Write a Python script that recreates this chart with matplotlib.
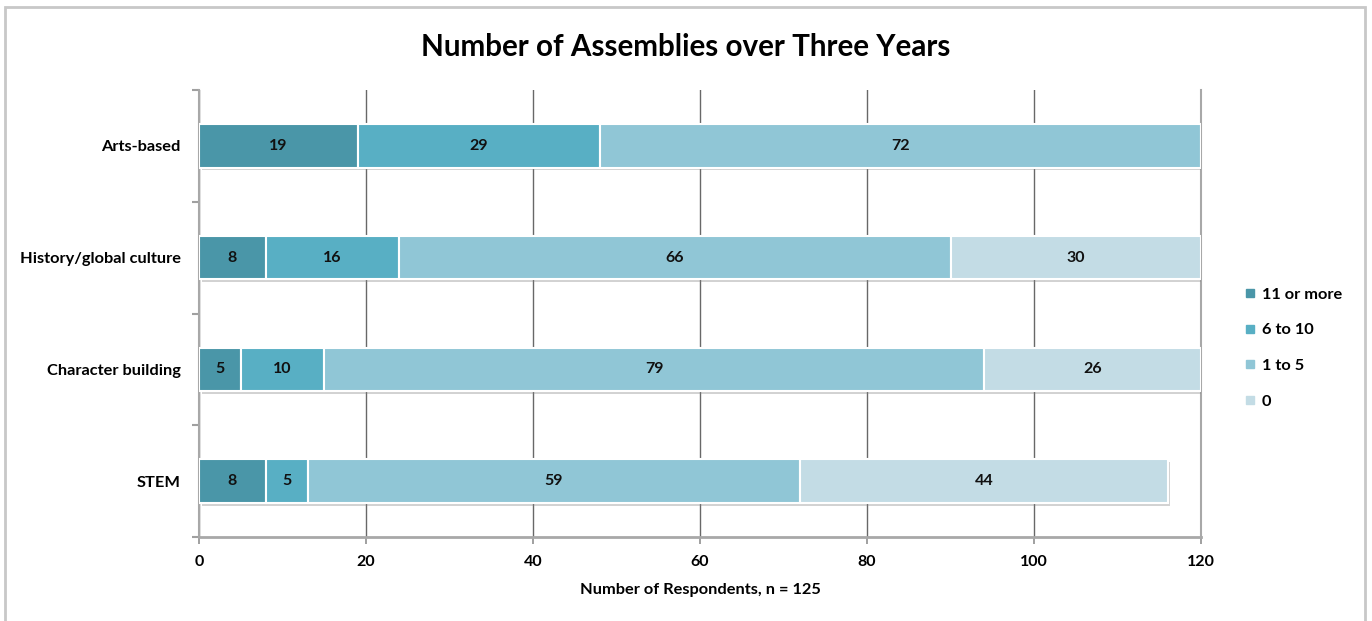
import matplotlib
matplotlib.use("Agg")
import matplotlib.pyplot as plt
import matplotlib.patheffects as pe
from matplotlib.patches import Rectangle
from matplotlib.lines import Line2D
import numpy as np

categories = ["Arts-based", "History/global culture", "Character building", "STEM"]
series_names = ["11 or more", "6 to 10", "1 to 5", "0"]
eleven_plus = [19, 8, 5, 8]
six_to_ten = [29, 16, 10, 5]
one_to_five = [72, 66, 79, 59]
zero = [0, 30, 26, 44]
x_ticks = [0, 20, 40, 60, 80, 100, 120]

colors = ["#4a96a8", "#58afc4", "#90c6d6", "#c3dce5"]

plt.rcParams["font.family"] = ["Lato", "DejaVu Sans"]
plt.rcParams["font.weight"] = "bold"

fig = plt.figure(figsize=(13.72, 6.21), dpi=100)
ax = fig.add_axes([199 / 1372, 1 - 537 / 621, (1201 - 199) / 1372, (537 - 90) / 621])

# outer frame around the whole chart
fig.patches.append(Rectangle((5 / 1372, -0.02), 1360 / 1372, 1 - 7 / 621 + 0.02,
                             transform=fig.transFigure, fill=False,
                             edgecolor="#c8c8c8", linewidth=2, zorder=0))

y = np.arange(len(categories))
left = np.zeros(len(categories))
shadow = [pe.SimplePatchShadow(offset=(2, -2), shadow_rgbFace="#808080", alpha=0.35),
          pe.Normal()]
for name, vals, col in zip(series_names, [eleven_plus, six_to_ten, one_to_five, zero], colors):
    vals = np.array(vals, dtype=float)
    bars = ax.barh(y, vals, left=left, height=0.39, color=col, edgecolor="white",
                   linewidth=1.5, label=name, zorder=3)
    for b, v in zip(bars, vals):
        if v > 0:
            b.set_path_effects(shadow)
            ax.text(b.get_x() + b.get_width() / 2, b.get_y() + b.get_height() / 2,
                    f"{int(v)}", ha="center", va="center", fontsize=11.5,
                    fontweight="bold", color="#111111", zorder=4)
    left += vals

ax.set_xlim(0, 120)
ax.set_ylim(3.5, -0.5)
ax.set_xticks(x_ticks)
ax.set_xticklabels([str(t) for t in x_ticks], fontsize=11.5, fontweight="bold")
ax.set_yticks(y)
ax.set_yticklabels(categories, fontsize=11.8, fontweight="bold")
ax.set_yticks(np.arange(-0.5, 4.0, 1.0), minor=True)
ax.tick_params(axis="y", which="major", length=0, pad=13)
ax.tick_params(axis="y", which="minor", length=5, color="#a0a0a0", width=1.5)
ax.tick_params(axis="x", length=5, color="#909090", width=1.2, pad=8)

ax.grid(axis="x", color="#686868", linewidth=1.0, zorder=0)
ax.spines["top"].set_visible(False)
for s in ["right", "left"]:
    ax.spines[s].set_color("#a8a8a8")
    ax.spines[s].set_linewidth(1.5)
ax.spines["bottom"].set_color("#a8a8a8")
ax.spines["bottom"].set_linewidth(2)

ax.set_xlabel("Number of Respondents, n = 125", fontsize=11.8, fontweight="bold", labelpad=10)
fig.text(0.5, 1 - 47 / 621, "Number of Assemblies over Three Years", ha="center",
         va="center", fontsize=21.3, fontweight="bold")

handles = [Line2D([0], [0], marker="s", linestyle="none", markersize=6,
                  markerfacecolor=c, markeredgecolor=c) for c in colors]
leg = fig.legend(handles, series_names, loc="upper left",
                 bbox_to_anchor=(1232 / 1372, 1 - 274 / 621), frameon=False,
                 fontsize=11.8, handlelength=0.6, handletextpad=0.4, labelspacing=1.3,
                 borderpad=0.3)
for t in leg.get_texts():
    t.set_fontweight("bold")

fig.savefig("out.png", dpi=100)
